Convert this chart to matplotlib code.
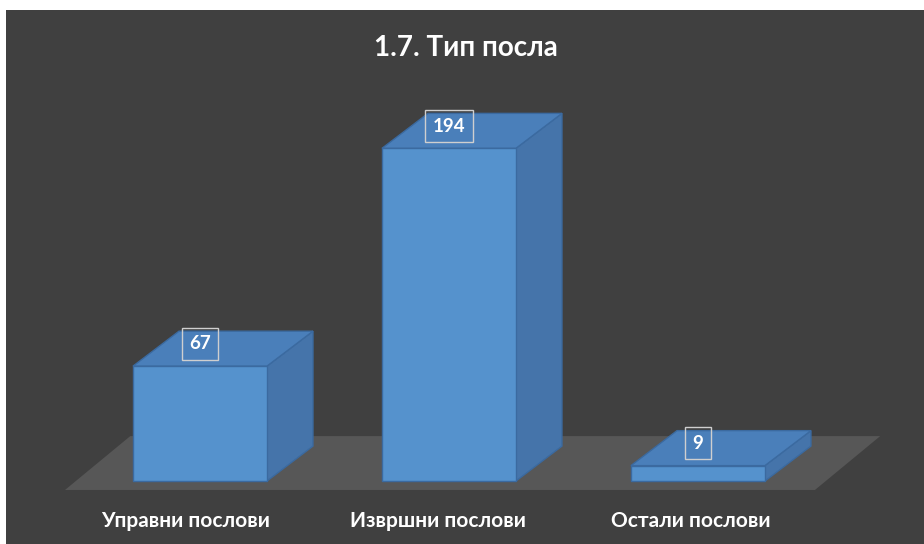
import matplotlib.pyplot as plt
from matplotlib.patches import Polygon, Rectangle

categories = ['Управни послови', 'Извршни послови', 'Остали послови']
values = [67, 194, 9]
title = '1.7. Тип посла'

# colours
bg = '#404040'
floor_c = '#575757'
front_c = '#5592cd'
top_c = '#4a7fba'
side_c = '#4574aa'
edge_c = '#3b6aa0'

plt.rcParams['font.family'] = ['Lato', 'DejaVu Sans']

fig = plt.figure(figsize=(9.24, 5.44), dpi=100)
fig.patch.set_facecolor('white')
# dark chart area (white strip on top and left)
fig.patches.append(Rectangle((6 / 924, 0), 1, 534 / 544, transform=fig.transFigure,
                             facecolor=bg, edgecolor='none', zorder=-5))

ax = fig.add_axes([0, 0, 1, 1])
ax.set_xlim(-0.803, 2.908)
ax.set_ylim(-36.7, 280.5)
ax.axis('off')
ax.patch.set_alpha(0)

w = 0.538      # bar width
dx = 0.185     # depth offset x
dy = 20.4      # depth offset y

# floor
fy0, fy1 = -5.2, 26.2
fx0, fx1 = -0.542, 2.47
fdx = 0.262
ax.add_patch(Polygon([(fx0, fy0), (fx1, fy0), (fx1 + fdx, fy1), (fx0 + fdx, fy1)],
                     closed=True, facecolor=floor_c, edgecolor='none', zorder=1))

label_shift = [-0.056, -0.044, -0.03]

for i, v in enumerate(values):
    x0, x1 = i - w / 2, i + w / 2
    front = [(x0, 0), (x1, 0), (x1, v), (x0, v)]
    top = [(x0, v), (x1, v), (x1 + dx, v + dy), (x0 + dx, v + dy)]
    side = [(x1, 0), (x1 + dx, dy), (x1 + dx, v + dy), (x1, v)]
    ax.add_patch(Polygon(side, closed=True, facecolor=side_c, edgecolor=edge_c, lw=1, zorder=2))
    ax.add_patch(Polygon(top, closed=True, facecolor=top_c, edgecolor=edge_c, lw=1, zorder=2))
    ax.add_patch(Polygon(front, closed=True, facecolor=front_c, edgecolor=edge_c, lw=1, zorder=3))
    ax.text(i, v + 13, str(v), ha='center', va='center', color='white',
            fontsize=13.5, fontweight='bold', zorder=5,
            bbox=dict(boxstyle='square,pad=0.4', facecolor='none',
                      edgecolor='#cfcfcf', lw=1))
    ax.text(i + label_shift[i], -23.3, categories[i], ha='center', va='center',
            color='white', fontsize=15, fontweight='bold', zorder=5)

ax.text(1.07, 252.5, title, ha='center', va='center', color='white',
        fontsize=20, fontweight='bold')

fig.savefig('out.png', dpi=100, facecolor=fig.get_facecolor())
